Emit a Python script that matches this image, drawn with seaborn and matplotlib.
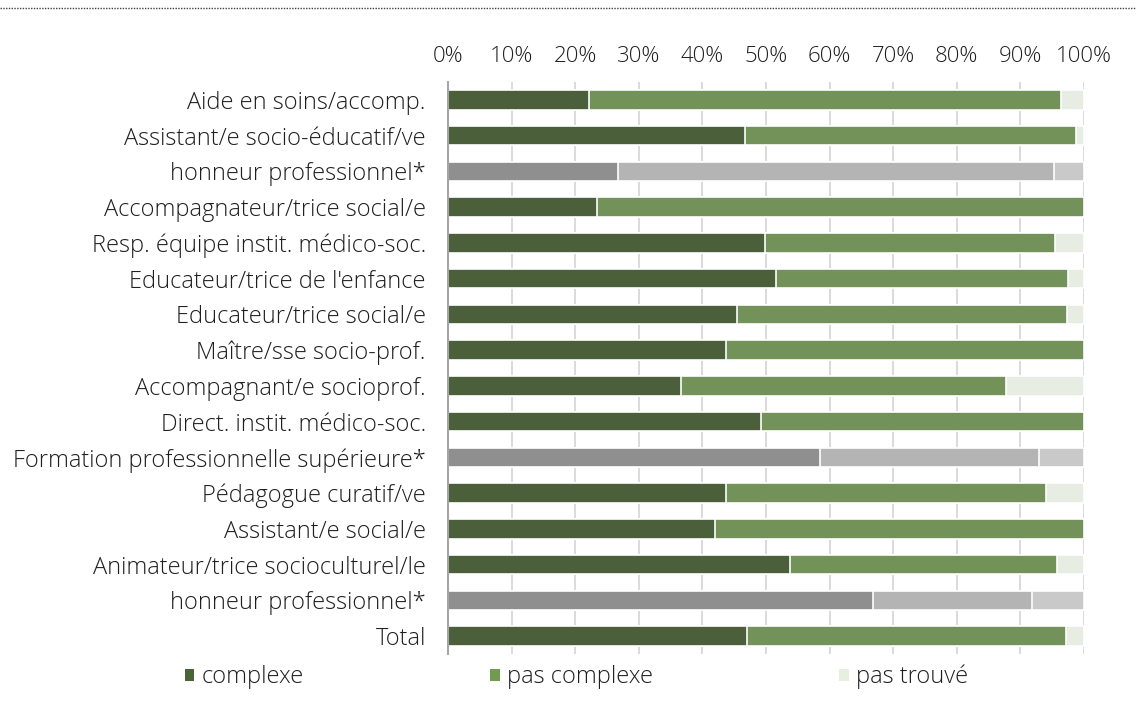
import matplotlib
matplotlib.use("Agg")
import matplotlib.pyplot as plt
import seaborn as sns
import pandas as pd
from matplotlib.lines import Line2D
from matplotlib.patches import Patch

labels = [
    "Aide en soins/accomp.",
    "Assistant/e socio-éducatif/ve",
    "honneur professionnel*",
    "Accompagnateur/trice social/e",
    "Resp. équipe instit. médico-soc.",
    "Educateur/trice de l'enfance",
    "Educateur/trice social/e",
    "Maître/sse socio-prof.",
    "Accompagnant/e socioprof.",
    "Direct. instit. médico-soc.",
    "Formation professionnelle supérieure*",
    "Pédagogue curatif/ve",
    "Assistant/e social/e",
    "Animateur/trice socioculturel/le",
    "honneur professionnel*",
    "Total",
]
complexe = [22.1, 46.7, 26.8, 23.5, 49.9, 51.6, 45.5, 43.7, 36.7, 49.2, 58.5, 43.7, 42.0, 53.8, 66.8, 47.0]
pas_complexe = [74.3, 52.0, 68.5, 76.5, 45.6, 45.9, 51.8, 56.3, 51.0, 50.8, 34.4, 50.3, 58.0, 42.0, 25.0, 50.1]
pas_trouve = [3.6, 1.3, 4.7, 0.0, 4.5, 2.5, 2.7, 0.0, 12.3, 0.0, 7.1, 6.0, 0.0, 4.2, 8.2, 2.9]
grey_rows = [False, False, True, False, False, False, False, False, False, False, True, False, False, False, True, False]

green_cols = ["#4a6535", "#719b51", "#e7efe0"]
grey_cols = ["#8f8f8f", "#b4b4b4", "#c9c9c9"]
legend_names = ["complexe", "pas complexe", "pas trouvé"]

TEXT = "#1f1f1f"

df = pd.DataFrame({
    "row": [f"r{i}" for i in range(len(labels))],
    "c1": complexe,
    "c2": pas_complexe,
    "c3": pas_trouve,
})
df["cum1"] = df["c1"]
df["cum2"] = df["c1"] + df["c2"]
df["cum3"] = df["cum2"] + df["c3"]

sns.set_style("white")
plt.rcParams["font.family"] = ["Open Sans", "DejaVu Sans"]
plt.rcParams["font.weight"] = "light"

fig = plt.figure(figsize=(11.36, 7.01), dpi=100)
ax = fig.add_axes([448 / 1136, 1 - 654 / 701, 636 / 1136, (654 - 82) / 701])

# draw the stacked bars back to front (cumulative lengths)
for layer, k in [("cum3", 2), ("cum2", 1), ("cum1", 0)]:
    pal = {r: (grey_cols[k] if g else green_cols[k]) for r, g in zip(df["row"], grey_rows)}
    sns.barplot(
        data=df,
        x=layer,
        y="row",
        hue="row",
        palette=pal,
        orient="h",
        width=0.54,
        edgecolor="white",
        linewidth=1.2,
        legend=False,
        ax=ax,
        zorder=2,
    )

ax.set_xlim(0, 100)
ax.set_ylim(len(labels) - 0.5, -0.5)
ax.set_xticks(range(0, 101, 10))
ax.set_xticklabels([f"{v}%" for v in range(0, 101, 10)])
ax.set_yticks(range(len(labels)))
ax.set_yticklabels(labels)
ax.xaxis.tick_top()
ax.tick_params(axis="x", length=0, pad=11, labelsize=16, labelcolor=TEXT)
ax.tick_params(axis="y", length=0, pad=16, labelsize=17, labelcolor=TEXT)
ax.set_xlabel("")
ax.set_ylabel("")

ax.grid(axis="x", color="#d4d4d4", linewidth=1.2, zorder=0)
ax.grid(axis="y", visible=False)
ax.set_axisbelow(True)
for s in ["top", "right", "bottom"]:
    ax.spines[s].set_visible(False)
ax.spines["left"].set_color("#a6a6a6")
ax.spines["left"].set_linewidth(1.5)
ax.spines["left"].set_zorder(5)

handles = [Patch(facecolor=c, edgecolor="none") for c in green_cols]
fig.legend(
    handles,
    legend_names,
    loc="center",
    bbox_to_anchor=(0.5075, 0.034),
    ncol=3,
    frameon=False,
    prop={"size": 17, "weight": "light"},
    labelcolor=TEXT,
    handlelength=0.4,
    handleheight=0.4,
    handletextpad=0.3,
    columnspacing=7.9,
)

fig.add_artist(Line2D([0, 1], [0.989, 0.989], transform=fig.transFigure,
                      color="#404040", linewidth=1, linestyle=(0, (1, 1))))

fig.savefig("out.png", dpi=100)
